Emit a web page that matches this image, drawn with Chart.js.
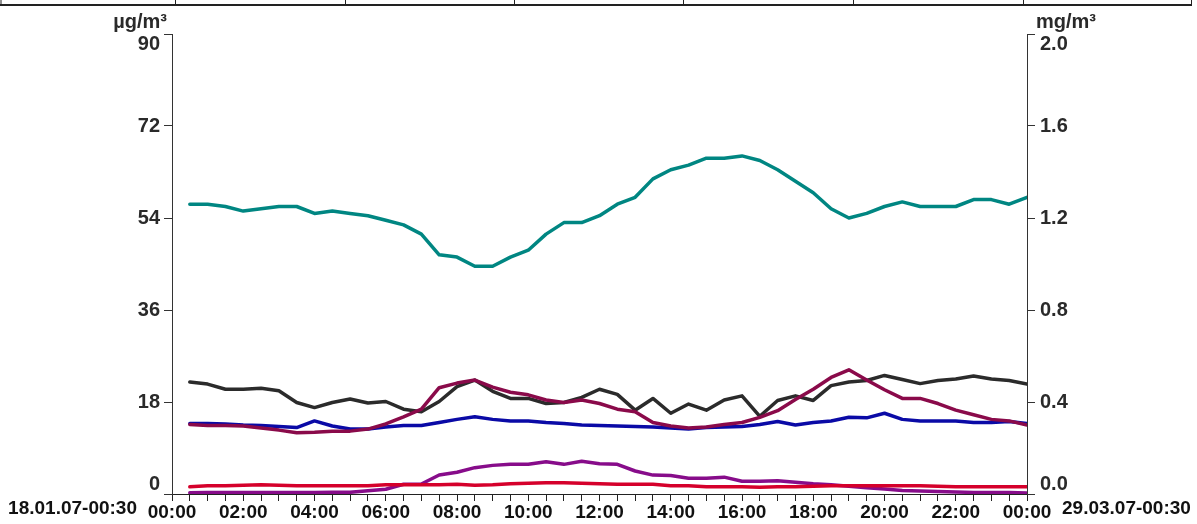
<!DOCTYPE html>
<html>
<head>
<meta charset="utf-8">
<title>Tagesgang</title>
<script src="https://cdn.jsdelivr.net/npm/chart.js@4.4.1/dist/chart.umd.min.js"></script>
<style>
  html, body { margin: 0; padding: 0; background: #ffffff; overflow: hidden; }
  #wrap { width: 1197px; height: 524px; position: relative; }
</style>
</head>
<body>
<div id="wrap"><canvas id="c" width="1197" height="524"></canvas></div>
<script>
// Half-hour averaging slots (end of interval)
const slots = [
  '00:30','01:00','01:30','02:00','02:30','03:00','03:30','04:00',
  '04:30','05:00','05:30','06:00','06:30','07:00','07:30','08:00',
  '08:30','09:00','09:30','10:00','10:30','11:00','11:30','12:00',
  '12:30','13:00','13:30','14:00','14:30','15:00','15:30','16:00',
  '16:30','17:00','17:30','18:00','18:30','19:00','19:30','20:00',
  '20:30','21:00','21:30','22:00','22:30','23:00','23:30','24:00'
];

// Axis labels
const xTickLabels = ['00:00','02:00','04:00','06:00','08:00','10:00','12:00','14:00','16:00','18:00','20:00','22:00','00:00'];
const leftTickLabels = ['0','18','36','54','72','90'];
const rightTickLabels = ['0.0','0.4','0.8','1.2','1.6','2.0'];
const leftUnit = 'µg/m³';
const rightUnit = 'mg/m³';
const periodStart = '18.01.07-00:30';
const periodEnd = '29.03.07-00:30';

// Right axis (mg/m³)
const teal = [1.26,1.26,1.25,1.23,1.24,1.25,1.25,1.22,1.23,1.22,1.21,1.19,
              1.17,1.13,1.04,1.03,0.99,0.99,1.03,1.06,1.13,1.18,1.18,1.21,
              1.26,1.29,1.37,1.41,1.43,1.46,1.46,1.47,1.45,1.41,1.36,1.31,
              1.24,1.20,1.22,1.25,1.27,1.25,1.25,1.25,1.28,1.28,1.26,1.29];

// Left axis (µg/m³)
const charcoal = [21.9,21.5,20.5,20.5,20.7,20.2,17.9,16.9,17.9,18.6,17.8,18.1,
                  16.6,16.1,18.1,21.0,22.3,20.1,18.7,18.7,17.7,17.9,18.9,20.5,
                  19.5,16.4,18.7,15.8,17.6,16.4,18.4,19.2,15.2,18.3,19.2,18.3,
                  21.2,21.9,22.2,23.2,22.4,21.6,22.2,22.5,23.1,22.5,22.2,21.5];
const maroon = [13.6,13.4,13.4,13.3,12.9,12.5,12.0,12.1,12.3,12.3,12.7,13.7,
                15.1,16.6,20.8,21.7,22.3,20.9,19.9,19.4,18.4,17.9,18.4,17.7,
                16.6,16.1,14.0,13.3,12.9,13.1,13.6,14.0,15.0,16.3,18.5,20.5,
                22.8,24.3,22.3,20.4,18.7,18.7,17.7,16.4,15.5,14.6,14.3,13.5];
const navy = [13.8,13.8,13.7,13.5,13.4,13.2,13.0,14.3,13.3,12.7,12.7,13.1,
              13.4,13.4,14.0,14.6,15.1,14.6,14.3,14.3,14.0,13.8,13.5,13.4,
              13.3,13.2,13.1,12.9,12.7,13.0,13.1,13.2,13.6,14.2,13.5,14.0,
              14.3,15.0,14.9,15.8,14.6,14.3,14.3,14.3,14.0,14.0,14.2,13.8];
const violet = [0.25,0.27,0.28,0.30,0.30,0.30,0.30,0.30,0.33,0.33,0.65,0.92,
                1.90,1.96,3.72,4.25,5.15,5.60,5.80,5.80,6.30,5.80,6.40,5.90,
                5.80,4.50,3.70,3.60,3.10,3.10,3.30,2.50,2.50,2.60,2.30,2.00,
                1.80,1.50,1.20,1.00,0.70,0.60,0.50,0.40,0.30,0.30,0.30,0.20];
const crimson = [1.4,1.6,1.6,1.7,1.8,1.7,1.6,1.6,1.6,1.6,1.6,1.8,
                 1.8,1.8,1.8,1.9,1.7,1.8,2.0,2.1,2.2,2.2,2.1,2.0,
                 1.9,1.9,1.9,1.6,1.6,1.4,1.4,1.4,1.3,1.4,1.4,1.5,
                 1.6,1.6,1.6,1.6,1.6,1.6,1.5,1.4,1.4,1.4,1.4,1.4];

const FONT = "'Liberation Sans', Arial, Helvetica, sans-serif";
const INK = '#2a2a2a';

const toHours = s => { const [h, m] = s.split(':').map(Number); return h + m / 60; };
const points = arr => arr.map((v, i) => ({ x: toHours(slots[i]), y: v }));

function series(label, values, color, axis) {
  return {
    label,
    data: points(values),
    borderColor: color,
    backgroundColor: color,
    borderWidth: 3.5,
    pointRadius: 0,
    pointHoverRadius: 0,
    tension: 0,
    borderJoinStyle: 'round',
    borderCapStyle: 'round',
    yAxisID: axis
  };
}

// First label sits above its tick, last one below (two-line trick)
function edgeLabel(list, idx) {
  const last = list.length - 1;
  if (idx === 0) return [list[0], ''];
  if (idx === last) return ['', list[last]];
  return list[idx];
}

// Frame strip along the top, unit captions and the period stamps
const decorations = {
  id: 'decorations',
  afterDraw(chart) {
    const ctx = chart.ctx;
    const area = chart.chartArea;
    ctx.save();

    ctx.strokeStyle = '#222';
    ctx.lineWidth = 2;
    ctx.beginPath();
    ctx.moveTo(0, 5);
    ctx.lineTo(1192, 5);
    ctx.stroke();
    ctx.lineWidth = 1;
    [1, 175.5, 345.5, 514.5, 683.5, 853.5, 1023.5, 1191.5].forEach(x => {
      ctx.beginPath();
      ctx.moveTo(x, 0);
      ctx.lineTo(x, 5);
      ctx.stroke();
    });

    ctx.fillStyle = INK;
    ctx.font = `bold 20px ${FONT}`;
    ctx.textBaseline = 'alphabetic';
    ctx.textAlign = 'right';
    ctx.fillText(leftUnit, 167, 28);
    ctx.textAlign = 'left';
    ctx.fillText(rightUnit, 1036, 28);

    ctx.fillStyle = '#111';
    ctx.font = `bold 19px ${FONT}`;
    ctx.textBaseline = 'middle';
    ctx.textAlign = 'right';
    ctx.fillText(periodStart, area.left - 35, 509);
    ctx.textAlign = 'left';
    ctx.fillText(periodEnd, area.right + 35, 509);
    ctx.restore();
  }
};

new Chart(document.getElementById('c'), {
  type: 'line',
  data: {
    datasets: [
      series('crimson', crimson, '#d5002b', 'y'),
      series('maroon', maroon, '#8a0a4a', 'y'),
      series('violet', violet, '#870c8a', 'y'),
      series('navy', navy, '#0a0aa6', 'y'),
      series('charcoal', charcoal, '#2b2b2b', 'y'),
      series('teal', teal, '#008682', 'y2')
    ]
  },
  options: {
    responsive: false,
    animation: false,
    events: [],
    layout: { padding: { top: 34, left: 0, right: 0, bottom: 0 } },
    plugins: { legend: { display: false }, tooltip: { enabled: false } },
    scales: {
      x: {
        type: 'linear',
        min: 0,
        max: 24,
        afterFit(scale) { scale.height = 30; },
        ticks: {
          stepSize: 0.5,
          maxTicksLimit: 100,
          autoSkip: false,
          maxRotation: 0,
          padding: 0,
          color: '#111',
          font: { family: FONT, size: 19, weight: 'bold' },
          callback: v => (v % 2 === 0 ? xTickLabels[v / 2] : '')
        },
        grid: { drawOnChartArea: false, drawTicks: true, tickLength: 7, color: '#222', lineWidth: 1 },
        border: { color: '#222', width: 1 }
      },
      y: {
        position: 'left',
        min: 0,
        max: 90,
        afterFit(scale) { scale.width = 172; },
        ticks: {
          stepSize: 18,
          padding: 4,
          color: INK,
          font: { family: FONT, size: 20, weight: 'bold', lineHeight: 1.0 },
          callback: v => edgeLabel(leftTickLabels, Math.round(v / 18))
        },
        grid: { drawOnChartArea: false, drawTicks: true, tickLength: 8, color: '#333', lineWidth: 1 },
        border: { color: '#333', width: 1 }
      },
      y2: {
        position: 'right',
        min: 0,
        max: 2,
        afterFit(scale) { scale.width = 170; },
        ticks: {
          stepSize: 0.4,
          padding: 5,
          color: INK,
          font: { family: FONT, size: 20, weight: 'bold', lineHeight: 1.0 },
          callback: v => edgeLabel(rightTickLabels, Math.round(v / 0.4))
        },
        grid: { drawOnChartArea: false, drawTicks: true, tickLength: 8, color: '#333', lineWidth: 1 },
        border: { color: '#333', width: 1 }
      }
    }
  },
  plugins: [decorations]
});
</script>
</body>
</html>
